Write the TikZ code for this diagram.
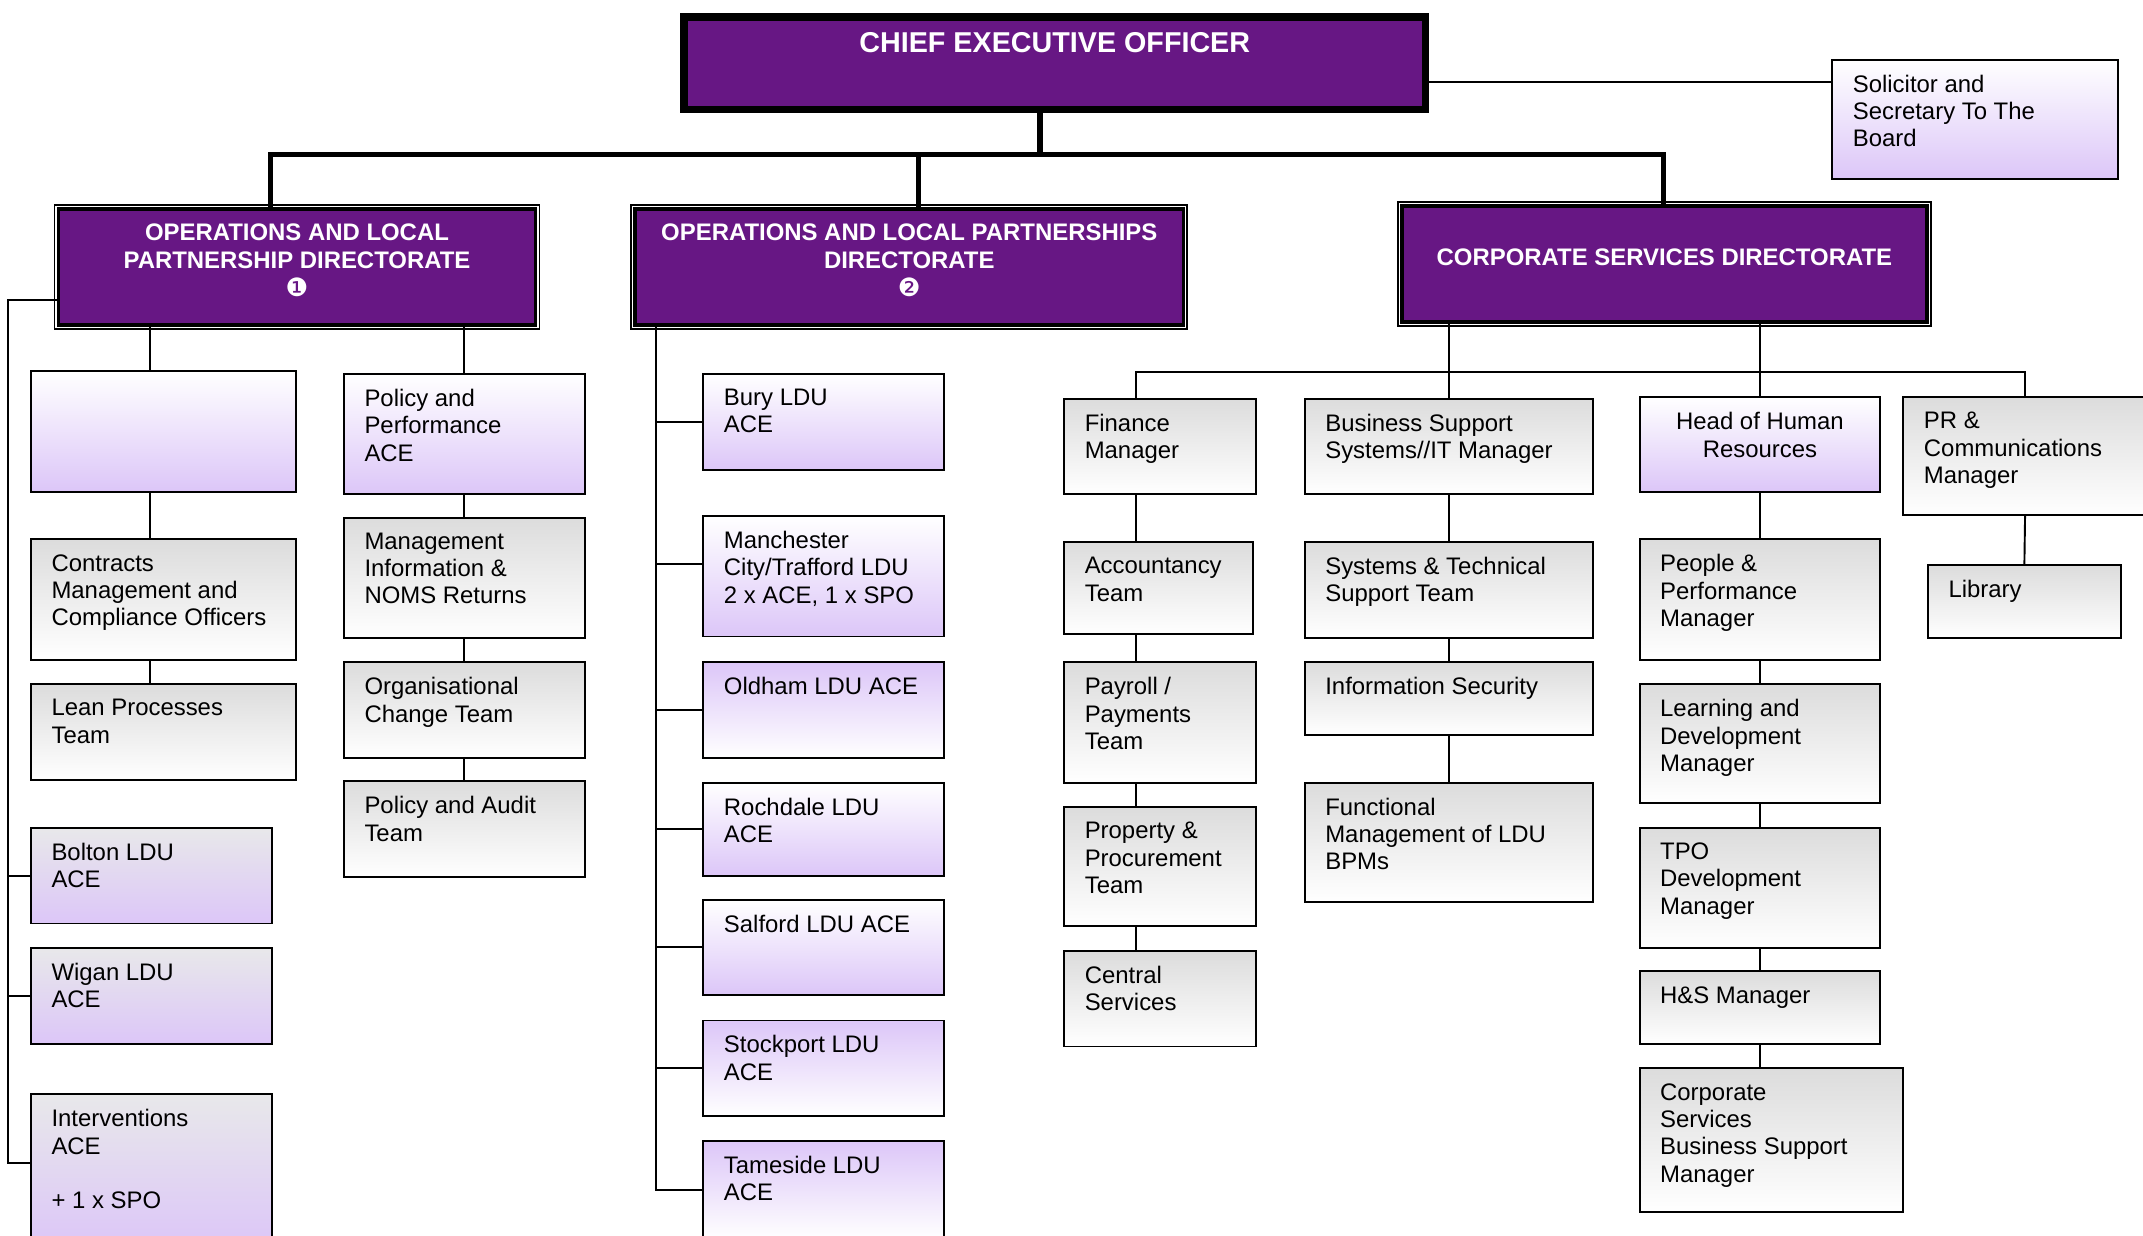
\documentclass[tikz,border=0pt]{standalone}
\usepackage{fontspec}
\setmainfont{Liberation Sans}
\newfontfamily\dingfont{DejaVu Sans}
\usepackage{xcolor}
\usetikzlibrary{positioning,calc}

\definecolor{purp}{HTML}{671784}
\definecolor{lilac}{HTML}{DCC6F8}
\definecolor{lightgrey}{HTML}{DCDCDC}
\definecolor{softgrey}{HTML}{E8E8EA}

\begin{document}
\begin{tikzpicture}[
    x=1pt, y=-1pt,
    every node/.style={font=\fontsize{17.5}{20}\selectfont},
    orgbox/.style={rectangle, draw, line width=1.4pt, anchor=north west, inner sep=0pt},
    greybox/.style={orgbox, top color=lightgrey, bottom color=white},
    lilacbox/.style={orgbox, top color=white, bottom color=lilac},
    ldubox/.style={orgbox, top color=softgrey, bottom color=lilac},
    flipbox/.style={orgbox, top color=lilac, bottom color=white},
    boxtext/.style={anchor=north west, align=left, inner sep=0pt, xshift=15.5pt, yshift=-11.5pt},
    midtext/.style={anchor=north, align=center, inner sep=0pt, yshift=-11.5pt},
    ceobox/.style={rectangle, draw, line width=5.5pt, fill=purp, anchor=north west, inner sep=0pt},
    dirbox/.style={rectangle, draw, line width=2.6pt, fill=purp, anchor=north west, inner sep=0pt,
        preaction={draw, line width=7pt}, preaction={draw=white, line width=4.6pt}},
    dirtext/.style={anchor=north, align=center, inner sep=0pt, text=white,
        font=\fontsize{17.5}{20}\selectfont\bfseries},
    link/.style={line width=1.4pt},
    bar/.style={line width=4pt}
]
    \useasboundingbox (0,0) rectangle (1568,904);

    % Chief executive and board
    \node[ceobox, minimum width=542.5pt, minimum height=67.5pt,
          label={[dirtext, font=\fontsize{21}{24}\selectfont\bfseries, yshift=-13.75pt]north:CHIEF EXECUTIVE OFFICER}] (ceo) at (497.75,9.75) {};
    \node[lilacbox, minimum width=209pt, minimum height=87pt,
          label={[boxtext]north west:Solicitor and\\Secretary To The\\Board}] (sol) at (1340,43) {};

    % Directorates
    \node[dirbox, minimum width=349pt, minimum height=85pt,
          label={[dirtext, yshift=-12.25pt]north:OPERATIONS AND LOCAL\\PARTNERSHIP DIRECTORATE\\[1pt]{\dingfont\mdseries\fontsize{18.5}{20}\selectfont ❶}}] (dir1) at (41.5,151.5) {};
    \node[dirbox, minimum width=401pt, minimum height=85pt,
          label={[dirtext, yshift=-12.25pt]north:OPERATIONS AND LOCAL PARTNERSHIPS\\DIRECTORATE\\[1pt]{\dingfont\mdseries\fontsize{18.5}{20}\selectfont ❷}}] (dir2) at (463.5,151.5) {};
    \node[dirbox, minimum width=384pt, minimum height=85pt,
          label={[dirtext, yshift=-32.25pt]north:CORPORATE SERVICES DIRECTORATE}] (dir3) at (1024.5,149.5) {};

    % Operations 1, first column
    \node[lilacbox, minimum width=194pt, minimum height=88pt] (blank) at (22,271) {};
    \node[greybox, minimum width=194pt, minimum height=88pt,
          label={[boxtext]north west:Contracts\\Management and\\Compliance Officers}] (contr) at (22,394) {};
    \node[greybox, minimum width=194pt, minimum height=70pt,
          label={[boxtext]north west:Lean Processes\\Team}] (lean) at (22,500) {};
    \node[ldubox, minimum width=176pt, minimum height=70pt,
          label={[boxtext]north west:Bolton LDU\\ACE}] (bolton) at (22,605) {};
    \node[ldubox, minimum width=176pt, minimum height=70pt,
          label={[boxtext]north west:Wigan LDU\\ACE}] (wigan) at (22,693) {};
    \node[ldubox, minimum width=176pt, minimum height=112pt,
          label={[boxtext]north west:Interventions\\ACE\\[20pt]+ 1 x SPO}] (interv) at (22,800) {};

    % Operations 1, second column
    \node[lilacbox, minimum width=176pt, minimum height=88pt,
          label={[boxtext]north west:Policy and\\Performance\\ACE}] (polperf) at (251,273) {};
    \node[greybox, minimum width=176pt, minimum height=88pt,
          label={[boxtext]north west:Management\\Information \&\\NOMS Returns}] (mgmt) at (251,378) {};
    \node[greybox, minimum width=176pt, minimum height=70pt,
          label={[boxtext]north west:Organisational\\Change Team}] (orgchg) at (251,484) {};
    \node[greybox, minimum width=176pt, minimum height=70pt,
          label={[boxtext]north west:Policy and Audit\\Team}] (polaud) at (251,571) {};

    % Operations 2
    \node[lilacbox, minimum width=176pt, minimum height=70pt,
          label={[boxtext]north west:Bury LDU\\ACE}] (bury) at (514,273) {};
    \node[lilacbox, minimum width=176pt, minimum height=88pt,
          label={[boxtext]north west:Manchester\\City/Trafford LDU\\2 x ACE, 1 x SPO}] (manc) at (514,377) {};
    \node[flipbox, minimum width=176pt, minimum height=70pt,
          label={[boxtext]north west:Oldham LDU ACE}] (oldham) at (514,484) {};
    \node[lilacbox, minimum width=176pt, minimum height=68pt,
          label={[boxtext]north west:Rochdale LDU\\ACE}] (rochdale) at (514,572) {};
    \node[lilacbox, minimum width=176pt, minimum height=69pt,
          label={[boxtext]north west:Salford LDU ACE}] (salford) at (514,658) {};
    \node[flipbox, minimum width=176pt, minimum height=70pt,
          label={[boxtext]north west:Stockport LDU\\ACE}] (stockport) at (514,746) {};
    \node[flipbox, minimum width=176pt, minimum height=72pt,
          label={[boxtext]north west:Tameside LDU\\ACE}] (tameside) at (514,834) {};

    % Corporate services, finance
    \node[greybox, minimum width=140pt, minimum height=70pt,
          label={[boxtext]north west:Finance\\Manager}] (fin) at (778,291) {};
    \node[greybox, minimum width=138pt, minimum height=67pt,
          label={[boxtext]north west:Accountancy\\Team}] (acct) at (778,396) {};
    \node[greybox, minimum width=140pt, minimum height=88pt,
          label={[boxtext]north west:Payroll /\\Payments\\Team}] (payroll) at (778,484) {};
    \node[greybox, minimum width=140pt, minimum height=87pt,
          label={[boxtext]north west:Property \&\\Procurement\\Team}] (prop) at (778,590) {};
    \node[greybox, minimum width=140pt, minimum height=70pt,
          label={[boxtext]north west:Central\\Services}] (central) at (778,695) {};

    % Corporate services, systems
    \node[greybox, minimum width=211pt, minimum height=70pt,
          label={[boxtext]north west:Business Support\\Systems//IT Manager}] (bss) at (954,291) {};
    \node[greybox, minimum width=211pt, minimum height=70pt,
          label={[boxtext]north west:Systems \& Technical\\Support Team}] (sts) at (954,396) {};
    \node[greybox, minimum width=211pt, minimum height=53pt,
          label={[boxtext]north west:Information Security}] (infosec) at (954,484) {};
    \node[greybox, minimum width=211pt, minimum height=87pt,
          label={[boxtext]north west:Functional\\Management of LDU\\BPMs}] (func) at (954,572) {};

    % Corporate services, human resources
    \node[lilacbox, minimum width=176pt, minimum height=69pt,
          label={[midtext]north:Head of Human\\Resources}] (hr) at (1199,290) {};
    \node[greybox, minimum width=176pt, minimum height=88pt,
          label={[boxtext]north west:People \&\\Performance\\Manager}] (people) at (1199,394) {};
    \node[greybox, minimum width=176pt, minimum height=87pt,
          label={[boxtext]north west:Learning and\\Development\\Manager}] (learn) at (1199,500) {};
    \node[greybox, minimum width=176pt, minimum height=88pt,
          label={[boxtext]north west:TPO\\Development\\Manager}] (tpo) at (1199,605) {};
    \node[greybox, minimum width=176pt, minimum height=53pt,
          label={[boxtext]north west:H\&S Manager}] (hs) at (1199,710) {};
    \node[greybox, minimum width=193pt, minimum height=105pt,
          label={[boxtext]north west:Corporate\\Services\\Business Support\\Manager}] (csbsm) at (1199,781) {};

    % Corporate services, communications
    \node[greybox, minimum width=178pt, minimum height=86pt,
          label={[boxtext]north west:PR \&\\Communications\\Manager}] (pr) at (1392,290) {};
    \node[greybox, minimum width=141pt, minimum height=53pt,
          label={[boxtext]north west:Library}] (lib) at (1410,413) {};

    % Top level links
    \coordinate (hub) at (761,113);
    \coordinate (d1) at (198,113);
    \coordinate (d2) at (672,113);
    \coordinate (d3) at (1217,113);
    \draw[bar] (hub |- ceo.south) -- (hub);
    \draw[bar] (d1 |- dir1.north) -- (d1) -- (d3) -- (d3 |- dir3.north);
    \draw[bar] (d2) -- (d2 |- dir2.north);
    \coordinate (sol-in) at ([yshift=-17pt]sol.north west);
    \draw[link] (ceo.east |- sol-in) -- (sol-in);

    % Operations 1 links
    \coordinate (t1) at (6,0);
    \coordinate (dir1-out) at ([yshift=-24pt]dir1.west);
    \coordinate (interv-in) at ([yshift=-51pt]interv.north west);
    \draw[link] (dir1-out) -| (t1 |- interv-in) -- (interv-in);
    \draw[link] (t1 |- bolton.west) -- (bolton.west);
    \draw[link] (t1 |- wigan.west) -- (wigan.west);
    \coordinate (c1) at (110,0);
    \draw[link] (c1 |- dir1.south) -- (c1 |- blank.north);
    \draw[link] (c1 |- blank.south) -- (c1 |- contr.north);
    \draw[link] (c1 |- contr.south) -- (c1 |- lean.north);
    \draw[link] (polperf.north |- dir1.south) -- (polperf.north);
    \draw[link] (polperf.south) -- (mgmt.north);
    \draw[link] (mgmt.south) -- (orgchg.north);
    \draw[link] (orgchg.south) -- (polaud.north);

    % Operations 2 links
    \coordinate (t2) at (480,0);
    \coordinate (manc-in) at ([yshift=9pt]manc.west);
    \draw[link] (t2 |- dir2.south) -- (t2 |- tameside.west) -- (tameside.west);
    \draw[link] (t2 |- bury.west) -- (bury.west);
    \draw[link] (t2 |- manc-in) -- (manc-in);
    \draw[link] (t2 |- oldham.west) -- (oldham.west);
    \draw[link] (t2 |- rochdale.west) -- (rochdale.west);
    \draw[link] (t2 |- salford.west) -- (salford.west);
    \draw[link] (t2 |- stockport.west) -- (stockport.west);

    % Corporate services links
    \coordinate (bus) at (831,272);
    \draw[link] (bss.north |- dir3.south) -- (bss.north);
    \draw[link] (hr.north |- dir3.south) -- (hr.north);
    \draw[link] (bus |- fin.north) -- (bus) -- (bus -| pr.north) -- (pr.north);
    \draw[link] (bus |- fin.south) -- (bus |- acct.north);
    \draw[link] (bus |- acct.south) -- (bus |- payroll.north);
    \draw[link] (bus |- payroll.south) -- (bus |- prop.north);
    \draw[link] (bus |- prop.south) -- (bus |- central.north);
    \draw[link] (bss.south) -- (sts.north);
    \draw[link] (sts.south) -- (infosec.north);
    \draw[link] (infosec.south) -- (func.north);
    \draw[link] (hr.south) -- (people.north);
    \draw[link] (people.south) -- (learn.north);
    \draw[link] (learn.south) -- (tpo.north);
    \draw[link] (tpo.south) -- (hs.north);
    \draw[link] (hs.south) -- (hs.south |- csbsm.north);
    \draw[link] (pr.south) -- (lib.north);
\end{tikzpicture}
\end{document}
